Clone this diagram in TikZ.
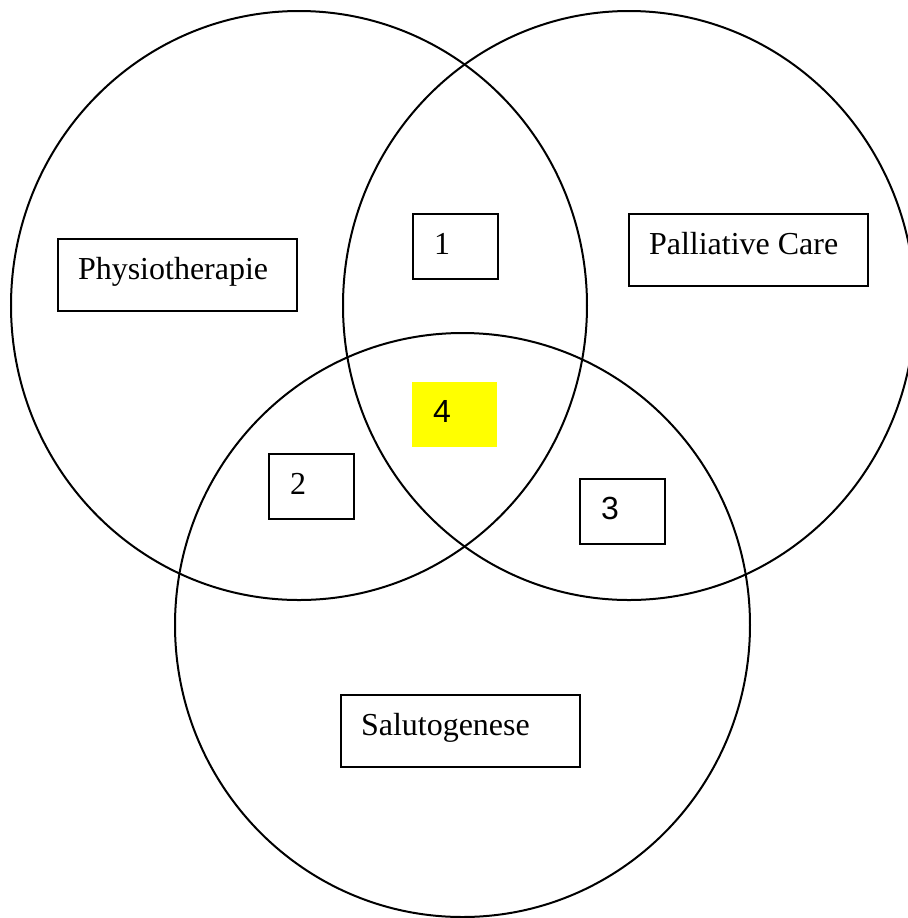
\documentclass[tikz,border=0pt]{standalone}
\usepackage{fontspec}
\setmainfont{Liberation Serif}
\newfontfamily\numfont{Liberation Sans}
\usepackage{tikz}
\usetikzlibrary{positioning}
\definecolor{Ink}{HTML}{000000}
\definecolor{Marker}{HTML}{FFFF00}

\begin{document}
\begin{tikzpicture}[x=0.5pt,y=-0.5pt,font=\fontsize{16}{19}\selectfont,
      field/.style={draw=Ink,line width=1pt},
      topic/.style={draw=Ink,line width=1pt,anchor=north west,
                    text width=99.5pt,align=flush left,inner xsep=10pt,
                    inner ysep=9pt,text height=11pt,text depth=7pt},
      region/.style={draw=Ink,line width=1pt,anchor=north west,
                     text width=21.5pt,align=flush left,inner xsep=10.5pt,
                     inner ysep=9pt,text height=11pt,text depth=3.5pt},
      core/.style={region,draw=none,fill=Marker}]
    \useasboundingbox (0,0) rectangle (908,918);
    % the three fields
    \draw[field] (299,305.5) ellipse [x radius=144pt,y radius=147.25pt];
    \draw[field] (629,305.5) ellipse [x radius=143pt,y radius=147.25pt];
    \draw[field] (462.5,625) ellipse [x radius=143.75pt,y radius=146pt];

    \node[topic] (physio) at (57,238) {Physiotherapie};
    \node[topic] (palliative) at (628,213) {Palliative Care};
    \node[topic] (saluto) at (340,694) {Salutogenese};

    % overlaps
    \node[region] (r1) at (412,213) {1};
    \node[region] (r2) at (268,453) {2};
    \node[region,font=\fontsize{16}{19}\numfont] (r3) at (579,478) {3};
    \node[core,font=\fontsize{16}{19}\numfont] (r4) at (411,381) {4};
  \end{tikzpicture}
\end{document}
